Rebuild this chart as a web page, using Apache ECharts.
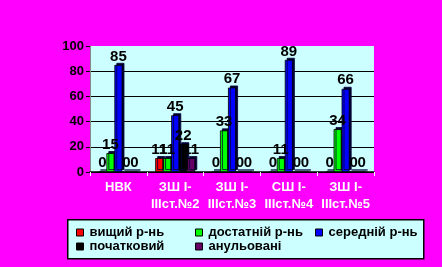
<!DOCTYPE html>
<html><head><meta charset="utf-8">
<script src="https://cdn.jsdelivr.net/npm/echarts@6/dist/echarts.min.js"></script>
<style>html,body{margin:0;padding:0;background:#FF00FF;}#c{width:442px;height:267px;}</style>
</head><body><div id="c"></div>
<script>
var categories = ['НВК', 'ЗШ І-\nІІІст.№2', 'ЗШ І-\nІІІст.№3', 'СШ І-\nІІІст.№4', 'ЗШ І-\nІІІст.№5'];
var seriesNames = ['вищий р-нь', 'достатній р-нь', 'середній р-нь', 'початковий', 'анульовані'];
var vyshchyi = [0, 11, 0, 0, 0];
var dostatnii = [15, 11, 33, 11, 34];
var serednii = [85, 45, 67, 89, 66];
var pochatkovyi = [0, 22, 0, 0, 0];
var anulovani = [0, 11, 0, 0, 0];
var yTicks = [0, 20, 40, 60, 80, 100];
var colors = ['#FF0000', '#00FF00', '#0000FF', '#000000', '#660066'];
var values = [vyshchyi, dostatnii, serednii, pochatkovyi, anulovani];

var chart = echarts.init(document.getElementById('c'));
var series = values.map(function (v, i) {
  return {
    name: seriesNames[i], type: 'bar', data: v, barWidth: 8, barGap: '0%',
    itemStyle: { color: colors[i], borderColor: '#000', borderWidth: 0.8,
      shadowColor: '#000033', shadowOffsetX: 2, shadowOffsetY: -2, shadowBlur: 0 },
    label: { show: true, position: 'top', distance: 1, color: '#000',
      fontFamily: 'Arial', fontWeight: 'bold', fontSize: 15 }
  };
});
var legendPos = [[76, 226], [195, 226], [76, 240], [195, 240], [315, 226]];
var legendOrder = [0, 1, 3, 4, 2];
var legends = legendOrder.map(function (si, k) {
  return {
    data: [seriesNames[si]], left: legendPos[k][0], top: legendPos[k][1],
    itemWidth: 7, itemHeight: 7, itemGap: 4, icon: 'rect', padding: 0,
    itemStyle: { borderColor: '#000', borderWidth: 1 },
    textStyle: { color: '#000', fontFamily: 'Arial', fontWeight: 'bold', fontSize: 13, padding: [0, 0, 0, 1] }
  };
});
chart.setOption({
  backgroundColor: '#FF00FF',
  animation: false,
  graphic: [{ type: 'rect', left: 67, top: 219, shape: { width: 356, height: 39 },
    style: { fill: '#CCFFFF', stroke: '#000', lineWidth: 1.5 }, z: -1 }],
  legend: legends,
  grid: { left: 90, right: 68, top: 46, bottom: 95, backgroundColor: '#CCFFFF', show: true, borderWidth: 0 },
  xAxis: {
    type: 'category', data: categories,
    axisLine: { lineStyle: { color: '#000', width: 1.5 } },
    axisTick: { show: true, lineStyle: { color: '#fff' }, length: 4 },
    axisLabel: { color: '#fff', fontFamily: 'Arial', fontWeight: 'bold', fontSize: 13, lineHeight: 17, margin: 7, interval: 0 }
  },
  yAxis: {
    type: 'value', min: 0, max: 100, interval: 20,
    axisLine: { show: true, lineStyle: { color: '#888' } },
    axisTick: { show: true, lineStyle: { color: '#000' }, length: 4 },
    axisLabel: { color: '#000', fontFamily: 'Arial', fontWeight: 'bold', fontSize: 13, margin: 6,
      textShadowColor: '#fff', textShadowOffsetX: -1, textShadowOffsetY: -1, textShadowBlur: 0,
      formatter: function (v) { return yTicks.indexOf(v) >= 0 ? String(v) : ''; } },
    splitLine: { show: true, lineStyle: { color: ['#000', '#000', '#000', '#000', '#000', 'rgba(0,0,0,0)'], width: 1 } }
  },
  series: series
});
</script></body></html>
